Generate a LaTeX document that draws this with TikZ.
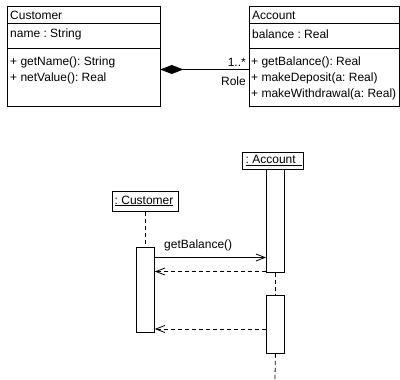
\documentclass[tikz,border=0pt]{standalone}
\usepackage{fontspec}
\setmainfont{Liberation Sans}
\usetikzlibrary{arrows.meta}
\frenchspacing
\begin{document}
\begin{tikzpicture}[x=1pt,y=-1pt,
  every node/.style={font=\fontsize{12}{14}\selectfont, inner sep=0pt},
  box/.style={draw, line width=0.8pt, fill=white},
  txt/.style={anchor=west},
  msg/.style={line width=0.8pt, -{Straight Barb[length=9pt,width=7pt]}},
  reply/.style={msg, dash pattern=on 4pt off 3pt},
  lifeline/.style={line width=0.8pt, dash pattern=on 4pt off 3pt}]
\useasboundingbox (0,0) rectangle (400,380);

% ---------- class diagram ----------
\node[box, minimum width=152.5pt, minimum height=100pt, anchor=north west] (cust) at (7,6) {};
\draw[line width=0.8pt] ([yshift=-17pt]cust.north west) -- ([yshift=-17pt]cust.north east);
\draw[line width=0.8pt] ([yshift=-42pt]cust.north west) -- ([yshift=-42pt]cust.north east);
\node[txt] (custname) at (10,15) {Customer};
\node[txt] (custattr) at (10,34) {name : String};
\node[txt] (custop1) at (10,62) {+ getName(): String};
\node[txt] (custop2) at (10,78.5) {+ netValue(): Real};

\node[box, minimum width=150pt, minimum height=100pt, anchor=north west] (acct) at (249,6) {};
\draw[line width=0.8pt] ([yshift=-17pt]acct.north west) -- ([yshift=-17pt]acct.north east);
\draw[line width=0.8pt] ([yshift=-42pt]acct.north west) -- ([yshift=-42pt]acct.north east);
\node[txt] (acctname) at (252,15) {Account};
\node[txt] (acctattr) at (252,34) {balance : Real};
\node[txt] (acctop1) at (251,62) {+ getBalance(): Real};
\node[txt] (acctop2) at (251,78) {+ makeDeposit(a: Real)};
\node[txt] (acctop3) at (251,94) {+ makeWithdrawal(a: Real)};

% composition
\draw[line width=0.8pt, {Diamond[length=23pt,width=9pt]}-] (cust.east |- 0,69.5) -- (acct.west |- 0,69.5);
\node[anchor=east] (mult) at (246,62) {1..*};
\node[anchor=east] (role) at (246,81) {Role};

% ---------- sequence diagram ----------
\node[box, minimum width=61pt, minimum height=17pt, anchor=north west] (acctobj) at (242,152) {};
\node[anchor=west] (acctlbl) at (245.5,160.5) {\underline{: Account\hspace{6pt}}};
\node[box, minimum width=66pt, minimum height=20pt, anchor=north west] (custobj) at (112,191) {};
\node[anchor=west] (custlbl) at (114.5,201) {\underline{: Customer}};

\node[box, minimum width=18pt, minimum height=103pt, anchor=north west] (acctact1) at (266,169) {};
\node[box, minimum width=18pt, minimum height=58pt, anchor=north west] (acctact2) at (266,295) {};
\node[box, minimum width=18pt, minimum height=85pt, anchor=north west] (custact) at (136,247) {};

\coordinate (acctend) at (275,380);
\draw[lifeline] (custobj.south -| custact.north) -- (custact.north);
\draw[lifeline] (acctact1.south) -- (acctact2.north);
\draw[lifeline] (acctact2.south) -- (acctend);

\draw[msg] (custact.east |- 0,257.5) -- (acctact1.west |- 0,257.5);
\node[anchor=west] (call) at (164,245) {getBalance()};
\draw[reply] (acctact1.west |- 0,271.5) -- (custact.east |- 0,271.5);
\draw[reply] (acctact2.west |- 0,329) -- (custact.east |- 0,329);
\end{tikzpicture}
\end{document}
